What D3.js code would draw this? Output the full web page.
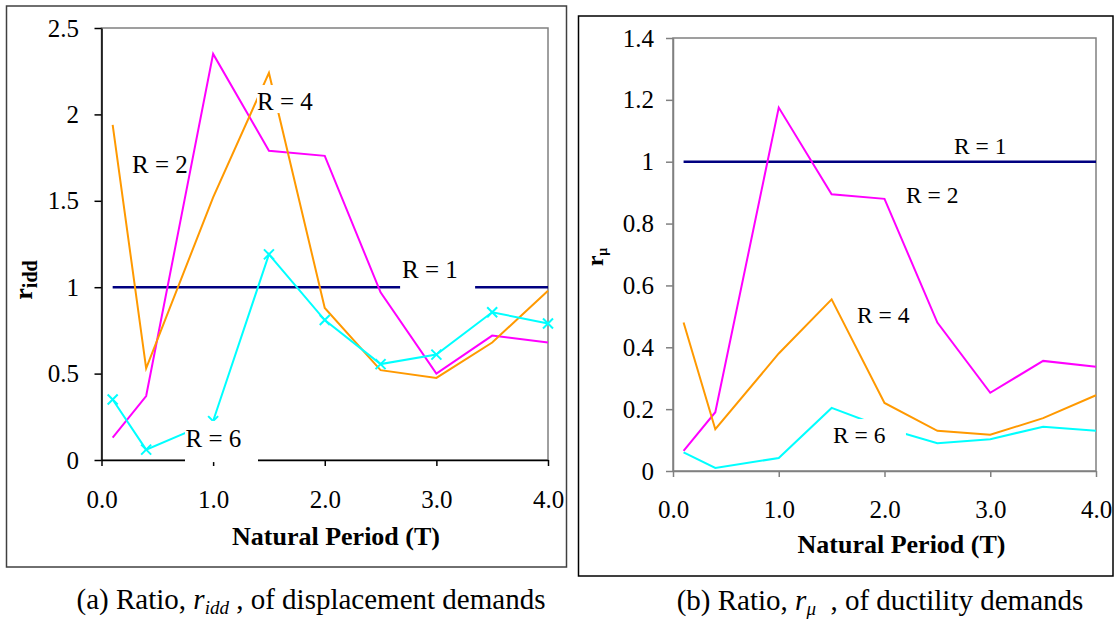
<!DOCTYPE html>
<html>
<head>
<meta charset="utf-8">
<script src="https://cdnjs.cloudflare.com/ajax/libs/d3/7.8.5/d3.min.js"></script>
<style>
  body { margin: 0; background: #fff; }
  svg text { font-family: "Liberation Serif", "Times New Roman", serif; white-space: pre; }
</style>
</head>
<body>
<div id="chart"></div>
<script>
// natural periods (T) shared by both panels
const periods = [0.1, 0.4, 1.0, 1.5, 2.0, 2.5, 3.0, 3.5, 4.0];
const seriesNames = ["R = 1", "R = 2", "R = 4", "R = 6"];
const seriesColors = ["#000080", "#ff00ff", "#ff9900", "#00ffff"];

// (a) ratio r_idd of displacement demands
const iddR1 = [1, 1, 1, 1, 1, 1, 1, 1, 1];
const iddR2 = [0.13, 0.37, 2.35, 1.79, 1.76, 0.97, 0.50, 0.72, 0.68];
const iddR4 = [1.94, 0.53, 1.52, 2.24, 0.88, 0.52, 0.475, 0.68, 0.98];
const iddR6 = [0.35, 0.06, 0.225, 1.19, 0.81, 0.555, 0.61, 0.855, 0.79];

// (b) ratio r_mu of ductility demands
const muR1 = [1, 1, 1, 1, 1, 1, 1, 1, 1];
const muR2 = [0.065, 0.19, 1.175, 0.895, 0.88, 0.48, 0.253, 0.356, 0.337];
const muR4 = [0.48, 0.135, 0.38, 0.555, 0.22, 0.13, 0.117, 0.171, 0.245];
const muR6 = [0.06, 0.01, 0.042, 0.204, 0.14, 0.09, 0.103, 0.143, 0.13];

const periodTicks = [0, 1, 2, 3, 4];
const iddTicks = [0, 0.5, 1, 1.5, 2, 2.5];
const muTicks = [0, 0.2, 0.4, 0.6, 0.8, 1, 1.2, 1.4];

// where the R labels sit (period, ratio); box = [t0, t1, v0, v1] white patch behind
const iddNotes = [
  {name: "R = 2", t: 0.273, v: 1.661},
  {name: "R = 4", t: 1.393, v: 2.025, box: [1.393, 1.94, 2.008, 2.17]},
  {name: "R = 1", t: 2.693, v: 1.053, box: [2.675, 3.347, 0.975, 1.18]},
  {name: "R = 6", t: 0.753, v: 0.075, box: [0.748, 1.402, -0.012, 0.226]}
];
const muNotes = [
  {name: "R = 1", t: 2.657, v: 1.025},
  {name: "R = 2", t: 2.203, v: 0.866},
  {name: "R = 4", t: 1.74, v: 0.478},
  {name: "R = 6", t: 1.513, v: 0.0905, box: [1.466, 2.203, 0.052, 0.168]}
];

let width = 1117,
  height = 623;

let svg = d3.select("#chart")
  .append("svg")
  .attr("width", width)
  .attr("height", height);

function drawPanel(p) {
  let g = svg.append("g");

  // outer frame
  g.append("rect")
    .attr("x", p.frame[0]).attr("y", p.frame[1])
    .attr("width", p.frame[2]).attr("height", p.frame[3])
    .attr("fill", "none")
    .attr("stroke", p.frameColor)
    .attr("stroke-width", 1.5);

  let x = d3.scaleLinear().domain([0, 4]).range([p.x0, p.x1]);
  let y = d3.scaleLinear().domain([0, p.yMax]).range([p.y1, p.y0]);

  // plot area border (gray)
  g.append("rect")
    .attr("x", p.x0).attr("y", p.y0)
    .attr("width", p.x1 - p.x0).attr("height", p.y1 - p.y0)
    .attr("fill", "none")
    .attr("stroke", "#808080")
    .attr("stroke-width", 1.5);

  let yAxis = g.append("g")
    .attr("transform", `translate(${p.x0},0)`)
    .call(d3.axisLeft(y).tickValues(p.yTicks).tickSize(7).tickSizeOuter(0)
      .tickPadding(p.yPad).tickFormat(d => String(+d.toFixed(2))));

  let xAxis = g.append("g")
    .attr("transform", `translate(0,${p.y1})`)
    .call(d3.axisBottom(x).tickValues(periodTicks).tickSize(6).tickSizeOuter(0)
      .tickFormat(d3.format(".1f")));

  for (let ax of [xAxis, yAxis]) {
    ax.select(".domain").attr("stroke", p.axisColor).attr("stroke-width", 1.5);
    ax.selectAll(".tick line").attr("stroke", p.axisColor).attr("stroke-width", 1.5);
    ax.selectAll("text")
      .attr("fill", "#000")
      .style("font-family", '"Liberation Serif", "Times New Roman", serif')
      .style("font-size", "25px");
  }
  xAxis.selectAll("text").attr("y", p.xLabelDrop).attr("dy", null);

  // series lines
  let line = d3.line()
    .x(d => x(d.t))
    .y(d => y(d.v));

  p.series.forEach((vals, i) => {
    let pts = periods.map((t, j) => ({t: t, v: vals[j]}));
    g.append("path")
      .datum(pts)
      .attr("d", line)
      .attr("fill", "none")
      .attr("stroke", seriesColors[i])
      .attr("stroke-width", i == 0 ? 2.5 : 2)
      .attr("stroke-linejoin", "miter");

    if (p.markers && i == 3) {
      g.selectAll(null)
        .data(pts)
        .join("path")
        .attr("transform", d => `translate(${x(d.t)},${y(d.v)})`)
        .attr("d", "M-5,-5L5,5M-5,5L5,-5")
        .attr("stroke", seriesColors[i])
        .attr("stroke-width", 2);
    }
  });

  // white patches behind the labels
  let boxed = p.notes.filter(n => n.box);
  g.selectAll(null)
    .data(boxed)
    .join("rect")
    .attr("x", d => x(d.box[0]))
    .attr("y", d => y(d.box[3]))
    .attr("width", d => x(d.box[1]) - x(d.box[0]))
    .attr("height", d => y(d.box[2]) - y(d.box[3]))
    .attr("fill", "#fff");

  g.selectAll(null)
    .data(p.notes)
    .join("text")
    .attr("x", d => x(d.t))
    .attr("y", d => y(d.v))
    .style("font-size", p.noteSize + "px")
    .attr("fill", "#000")
    .text(d => d.name);

  // axis titles
  g.append("text")
    .attr("x", p.xTitle[0]).attr("y", p.xTitle[1])
    .attr("text-anchor", "middle")
    .style("font-size", "26px")
    .style("font-weight", "bold")
    .text("Natural Period (T)");

  let yt = g.append("text")
    .attr("transform", `translate(${p.yTitle[0]},${p.yTitle[1]}) rotate(-90)`)
    .attr("text-anchor", "middle")
    .style("font-weight", "bold")
    .style("font-size", p.yTitleSize + "px");
  yt.append("tspan").text("r");
  yt.append("tspan").attr("dy", p.subDrop).style("font-size", p.subSize + "px").text(p.sub);

  // caption under the frame
  let cap = g.append("text")
    .attr("x", p.caption[0]).attr("y", p.caption[1])
    .attr("text-anchor", "middle")
    .style("font-size", "29px");
  cap.append("tspan").text(p.capLead);
  cap.append("tspan").style("font-style", "italic").text("r");
  cap.append("tspan").style("font-style", "italic").style("font-size", "19px").attr("dy", 5).text(p.sub);
  cap.append("tspan").attr("dy", -5).text(p.capTail);
}

drawPanel({
  frame: [6.5, 6, 560, 561], frameColor: "#404040",
  x0: 101.5, x1: 548, y0: 28, y1: 460, yMax: 2.5,
  yTicks: iddTicks, yPad: 15.5, xLabelDrop: 48,
  axisColor: "#000",
  series: [iddR1, iddR2, iddR4, iddR6], markers: true,
  notes: iddNotes, noteSize: 25,
  xTitle: [336, 545],
  yTitle: [32, 280], yTitleSize: 26, sub: "idd", subSize: 20, subDrop: 5,
  caption: [311, 609], capLead: "(a) Ratio, ", capTail: " , of displacement demands"
});

drawPanel({
  frame: [578.5, 16, 534.5, 560], frameColor: "#000",
  x0: 673, x1: 1096, y0: 38, y1: 471, yMax: 1.4,
  yTicks: muTicks, yPad: 12, xLabelDrop: 47,
  axisColor: "#808080",
  series: [muR1, muR2, muR4, muR6], markers: false,
  notes: muNotes, noteSize: 23.5,
  xTitle: [901.5, 553],
  yTitle: [603, 257], yTitleSize: 24, sub: "\u03bc", subSize: 14, subDrop: 4,
  caption: [880, 610], capLead: "(b) Ratio, ", capTail: "  , of ductility demands"
});
</script>
</body>
</html>
